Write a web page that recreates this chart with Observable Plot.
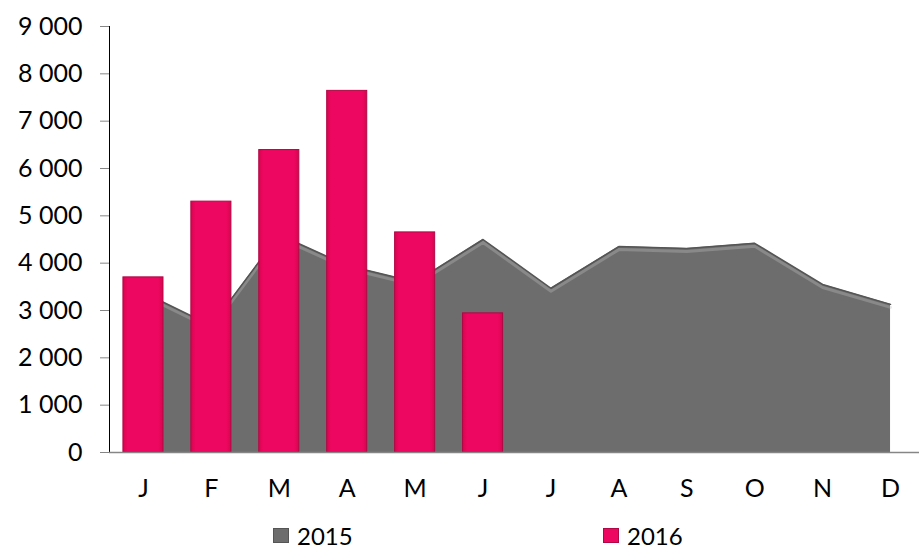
<!DOCTYPE html>
<html>
<head>
<meta charset="utf-8">
<script src="https://cdn.jsdelivr.net/npm/d3@7"></script>
<script src="https://cdn.jsdelivr.net/npm/@observablehq/plot@0.6"></script>
<style>
  html, body { margin: 0; padding: 0; background: #fff; }
  #wrap { position: relative; width: 919px; height: 550px; font-family: Lato, "Open Sans", sans-serif; }
  #legend { position: absolute; left: 0; top: 520px; width: 919px; height: 30px; }
  .item { position: absolute; top: 0; height: 30px; display: flex; align-items: center; font-size: 24px; color: #000; }
  .sw { width: 16px; height: 15px; margin-right: 8px; box-sizing: border-box; }
</style>
</head>
<body>
<div id="wrap">
  <div id="chart"></div>
  <div id="legend"></div>
</div>
<script>
const months = ["J","F","M","A","M","J","J","A","S","O","N","D"];
const values2015 = [3380, 2680, 4600, 3950, 3600, 4500, 3470, 4350, 4310, 4420, 3550, 3130];
const values2016 = [3700, 5300, 6390, 7640, 4650, 2940];
const yTicks = [0, 1000, 2000, 3000, 4000, 5000, 6000, 7000, 8000, 9000];
const seriesNames = ["2015", "2016"];
const seriesColors = ["#6d6d6d", "#ee0760"];

const idx = months.map((_, i) => i);
const area = idx.map(i => ({i, v: values2015[i]}));
const bars = values2016.map((v, i) => ({i, v}));

const fmt = d3.formatLocale({decimal: ",", thousands: "\u00a0", grouping: [3], currency: ["", ""]}).format(",");

const plot = Plot.plot({
  width: 919,
  height: 510,
  marginTop: 26,
  marginBottom: 58,
  marginLeft: 109,
  marginRight: -5,
  style: {fontFamily: "Lato, 'Open Sans', sans-serif", fontSize: "25px", color: "#000", background: "transparent"},
  x: {type: "band", domain: idx, paddingInner: 0.41, paddingOuter: 0.205, align: 0.5, round: false, label: null,
      tickFormat: i => months[i], tickSize: 0, tickPadding: 27},
  y: {domain: [0, 9000], label: null, ticks: yTicks, tickFormat: fmt, tickSize: 9, tickPadding: 18, line: true},
  marks: [
    Plot.areaY(area, {x: "i", y: "v", fill: seriesColors[0], curve: "linear"}),
    Plot.lineY(area, {x: "i", y: "v", stroke: "#bdbdbd", strokeWidth: 3, strokeOpacity: 0.35, dy: 3}),
    Plot.lineY(area, {x: "i", y: "v", stroke: "#555555", strokeWidth: 1.5}),
    Plot.barY(bars, {x: "i", y: "v", fill: "url(#pinkGrad)", stroke: "#b00845", strokeWidth: 1}),
    Plot.ruleY([0], {stroke: "#868686", strokeWidth: 1.5})
  ]
});

// gradient definition for the bevelled bars
const ns = "http://www.w3.org/2000/svg";
const defs = document.createElementNS(ns, "defs");
defs.innerHTML = `
  <linearGradient id="pinkGrad" x1="0" y1="0" x2="1" y2="0">
    <stop offset="0" stop-color="#d8054f"/>
    <stop offset="0.12" stop-color="#ee0760"/>
    <stop offset="0.88" stop-color="#ee0760"/>
    <stop offset="1" stop-color="#d8054f"/>
  </linearGradient>`;
plot.insertBefore(defs, plot.firstChild);
// grey axis strokes
plot.querySelectorAll("[aria-label='y-axis tick'], [aria-label='y-axis line'], [aria-label='y-axis'] path, [aria-label='y-axis'] line").forEach(e => e.setAttribute("stroke", "#868686"));

document.getElementById("chart").appendChild(plot);

// legend
const legend = document.getElementById("legend");
const legendLeft = [273, 603];
seriesNames.forEach((name, k) => {
  const it = document.createElement("div");
  it.className = "item";
  it.style.left = legendLeft[k] + "px";
  const sw = document.createElement("span");
  sw.className = "sw";
  sw.style.background = seriesColors[k];
  sw.style.border = "1px solid " + (k === 0 ? "#555" : "#b00845");
  const tx = document.createElement("span");
  tx.textContent = name;
  it.appendChild(sw);
  it.appendChild(tx);
  legend.appendChild(it);
});
</script>
</body>
</html>
